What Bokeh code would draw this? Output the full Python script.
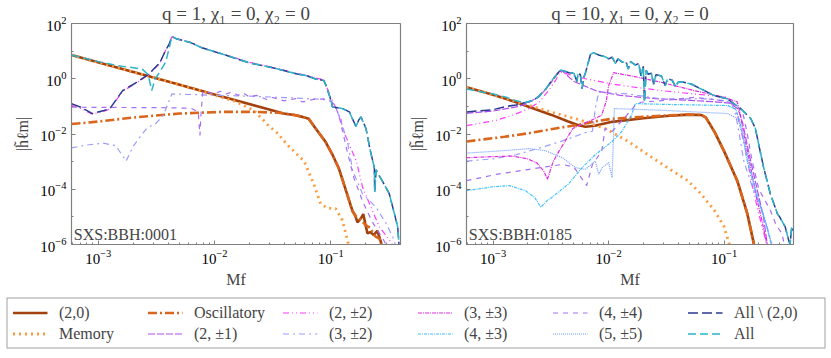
from bokeh.plotting import figure
from bokeh.models import Range1d, FixedTicker, Label, Legend, LegendItem
from bokeh.layouts import column, row
from bokeh.embed import file_html
from bokeh.resources import INLINE

# All values below are log10(Mf) and log10(|h_lm|).
# ---------------- Left panel: q = 1 (SXS:BBH:0001) ----------------
f20_1 = [-3.23, -2.8, -2.4, -2.0, -1.6, -1.405, -1.3, -1.244, -1.19, -1.13, -1.05, -0.985, -0.93, -0.886, -0.85, -0.814, -0.79, -0.77, -0.742, -0.72, -0.70, -0.684, -0.66, -0.63, -0.60, -0.569, -0.55]
h20_1 = [0.86, 0.36, -0.10, -0.57, -1.03, -1.26, -1.32, -1.38, -1.45, -1.80, -2.25, -2.75, -3.25, -3.82, -4.30, -4.77, -4.95, -5.2, -5.06, -4.9, -5.3, -5.6, -5.55, -5.66, -5.5, -5.9, -6.3]
fmem_1 = [-3.23, -2.8, -2.4, -2.2, -2.0, -1.82, -1.66, -1.53, -1.45, -1.375, -1.23, -1.145, -1.087, -1.03, -0.958, -0.90, -0.857, -0.83]
hmem_1 = [0.86, 0.36, -0.10, -0.33, -0.59, -0.82, -1.15, -1.72, -2.0, -2.39, -2.98, -3.82, -4.53, -4.68, -4.70, -5.12, -5.83, -6.3]
fosc_1 = [-3.23, -3.0, -2.67, -2.30, -1.95, -1.66, -1.45, -1.30, -1.244, -1.19, -1.13, -1.05, -0.985, -0.93, -0.886, -0.85, -0.814, -0.78, -0.742, -0.70, -0.66, -0.62, -0.58, -0.55]
hosc_1 = [-1.64, -1.55, -1.39, -1.26, -1.20, -1.20, -1.23, -1.32, -1.38, -1.45, -1.80, -2.25, -2.75, -3.25, -3.82, -4.30, -4.80, -5.0, -5.1, -5.3, -5.4, -5.7, -5.8, -6.3]
f22_1 = [-3.23, -3.14, -3.05, -2.95, -2.90, -2.79, -2.67, -2.568, -2.47, -2.424, -2.39, -2.367, -2.33, -2.2, -2.108, -1.9, -1.705, -1.5, -1.388, -1.3, -1.2, -1.13, -1.06, -1.0, -0.913, -0.90, -0.84, -0.78, -0.726, -0.654, -0.582, -0.496, -0.44]
h22_1 = [-0.95, -1.10, -1.28, -1.17, -1.10, -0.45, -0.15, 0.14, 0.56, 1.0, 1.25, 1.52, 1.46, 1.31, 1.13, 0.86, 0.60, 0.41, 0.30, 0.2, 0.12, 0.02, -0.03, -0.67, -1.44, -1.80, -2.39, -2.98, -3.93, -4.65, -5.36, -5.83, -6.2]
f32_1 = [-3.23, -3.1, -2.96, -2.85, -2.76, -2.70, -2.64, -2.585, -2.5, -2.44, -2.40, -2.367, -2.2, -2.0, -1.7, -1.4, -1.13, -1.0, -0.95, -0.90, -0.857, -0.81, -0.726, -0.61, -0.524, -0.467, -0.43]
h32_1 = [-2.5, -2.4, -2.33, -2.42, -2.98, -2.45, -2.1, -1.8, -1.6, -1.32, -0.9, -0.55, -0.57, -0.6, -0.63, -0.68, -0.73, -0.78, -1.1, -1.7, -2.27, -3.34, -4.17, -4.65, -5.24, -5.72, -6.2]
f44_1 = [-3.23, -2.8, -2.4, -2.2, -2.14, -2.125, -2.115, -2.10, -2.0, -1.95, -1.9, -1.85, -1.8, -1.75, -1.7, -1.64, -1.55, -1.5, -1.4, -1.3, -1.244, -1.15, -1.06, -0.99, -0.96, -0.92, -0.86, -0.80, -0.72, -0.64, -0.55, -0.50]
h44_1 = [-1.03, -1.04, -1.05, -1.07, -1.2, -2.05, -1.2, -0.45, -0.55, -0.45, -0.55, -0.48, -0.6, -0.52, -0.66, -0.6, -0.75, -0.68, -0.8, -0.72, -0.84, -0.75, -0.73, -0.85, -0.98, -1.5, -2.6, -3.6, -4.5, -5.2, -5.8, -6.2]
fa2_1 = [-3.23, -3.14, -3.05, -2.95, -2.90, -2.79, -2.67, -2.568, -2.47, -2.424, -2.39, -2.367, -2.33, -2.2, -2.108, -1.9, -1.705, -1.5, -1.388, -1.3, -1.2, -1.13, -1.06, -1.04, -1.0, -0.985, -0.94, -0.90, -0.84, -0.783, -0.76, -0.74, -0.697, -0.66, -0.625, -0.622, -0.61, -0.582, -0.53, -0.496, -0.453, -0.424, -0.41]
ha2_1 = [-0.90, -1.05, -1.26, -1.15, -1.08, -0.43, -0.13, 0.16, 0.58, 1.0, 1.25, 1.53, 1.45, 1.30, 1.12, 0.85, 0.58, 0.40, 0.28, 0.18, 0.10, -0.01, -0.06, -0.25, -0.75, -1.02, -1.05, -1.08, -1.2, -1.73, -1.5, -1.38, -1.80, -2.6, -3.22, -4.1, -3.3, -3.52, -3.9, -4.17, -4.88, -5.36, -6.2]
fall_1 = [-3.23, -3.0, -2.80, -2.70, -2.62, -2.57, -2.54, -2.51, -2.47, -2.42, -2.39, -2.367, -2.33, -2.2, -2.108, -1.9, -1.705, -1.5, -1.388, -1.3, -1.2, -1.13, -1.06, -1.04, -1.0, -0.985, -0.94, -0.90, -0.84, -0.783, -0.76, -0.74, -0.697, -0.66, -0.625, -0.622, -0.61, -0.582, -0.53, -0.496, -0.453, -0.424, -0.41]
hall_1 = [0.86, 0.62, 0.45, 0.40, 0.34, 0.15, -0.43, 0.0, 0.25, 0.6, 1.1, 1.53, 1.45, 1.30, 1.12, 0.85, 0.58, 0.40, 0.28, 0.18, 0.10, -0.01, -0.06, -0.25, -0.75, -1.02, -1.05, -1.08, -1.2, -1.73, -1.5, -1.38, -1.80, -2.6, -3.22, -4.1, -3.3, -3.52, -3.9, -4.17, -4.88, -5.36, -6.2]

# ---------------- Right panel: q = 10 (SXS:BBH:0185) ----------------
f20_2 = [-3.23, -3.0, -2.8, -2.5, -2.35, -2.26, -2.2, -2.12, -1.97, -1.7, -1.5, -1.315, -1.2, -1.16, -1.13, -1.08, -1.0, -0.886, -0.80, -0.744, -0.72]
h20_2 = [-0.31, -0.58, -0.85, -1.30, -1.55, -1.68, -1.74, -1.70, -1.56, -1.43, -1.35, -1.30, -1.31, -1.40, -1.6, -1.95, -2.63, -3.7, -4.88, -5.96, -6.4]
fmem_2 = [-3.23, -3.0, -2.8, -2.5, -2.26, -2.03, -1.83, -1.66, -1.49, -1.315, -1.2, -1.086, -1.0, -0.958, -0.94]
hmem_2 = [-0.31, -0.58, -0.83, -1.20, -1.48, -1.80, -2.27, -2.75, -3.22, -3.69, -4.17, -4.76, -5.36, -5.96, -6.3]
fosc_2 = [-3.23, -2.9, -2.69, -2.46, -2.25, -2.1, -1.97, -1.7, -1.5, -1.315, -1.2, -1.16, -1.13, -1.08, -1.0, -0.886, -0.80, -0.744, -0.72]
hosc_2 = [-2.27, -2.1, -1.97, -1.80, -1.66, -1.53, -1.45, -1.38, -1.33, -1.30, -1.31, -1.40, -1.6, -1.95, -2.63, -3.7, -4.88, -5.96, -6.4]
f21_2 = [-3.23, -3.0, -2.8, -2.72, -2.6, -2.5, -2.43, -2.40, -2.3, -2.1, -1.9, -1.6, -1.3, -1.1, -0.95, -0.88, -0.84, -0.78, -0.72, -0.66, -0.62]
h21_2 = [-1.25, -1.17, -1.02, -0.92, -0.65, -0.15, 0.25, 0.28, -0.1, -0.45, -0.6, -0.72, -0.78, -0.83, -0.88, -1.1, -1.6, -2.8, -3.9, -5.0, -6.2]
f22_2 = [-3.23, -2.97, -2.83, -2.69, -2.6, -2.52, -2.46, -2.42, -2.4, -2.2, -1.97, -1.75, -1.543, -1.26, -0.97, -0.92, -0.88, -0.82, -0.76, -0.70, -0.65, -0.62]
h22_2 = [-1.70, -1.50, -1.32, -1.08, -0.84, -0.43, -0.07, 0.25, 0.22, 0.0, -0.19, -0.32, -0.43, -0.55, -0.67, -0.9, -1.4, -2.5, -3.8, -4.9, -5.7, -6.2]
f32_2 = [-3.23, -3.0, -2.8, -2.6, -2.4, -2.2, -2.14, -2.115, -2.086, -1.83, -1.543, -1.115, -0.94, -0.90, -0.87, -0.83, -0.75, -0.672, -0.62, -0.58]
h32_2 = [-2.98, -2.9, -2.75, -2.51, -2.25, -1.95, -1.9, -1.08, -0.49, -0.55, -0.73, -0.73, -0.84, -1.3, -2.0, -2.98, -4.0, -4.76, -5.5, -6.2]
f33_2 = [-3.23, -3.0, -2.83, -2.7, -2.62, -2.56, -2.53, -2.48, -2.43, -2.31, -2.15, -2.06, -2.02, -2.0, -1.957, -1.8, -1.543, -1.26, -1.0, -0.886, -0.86, -0.83, -0.78, -0.72, -0.68, -0.64, -0.62]
h33_2 = [-2.86, -2.82, -2.80, -2.9, -3.05, -3.35, -3.64, -3.0, -2.63, -1.80, -1.5, -1.32, -0.8, -0.25, 0.22, 0.1, -0.13, -0.43, -0.67, -0.84, -1.3, -2.0, -3.0, -4.3, -5.0, -5.8, -6.2]
f43_2 = [-3.23, -3.0, -2.86, -2.72, -2.64, -2.586, -2.53, -2.49, -2.35, -2.23, -2.115, -1.97, -1.886, -1.80, -1.77, -1.5, -1.2, -0.97, -0.90, -0.86, -0.80, -0.72, -0.64, -0.58]
h43_2 = [-4.05, -3.91, -3.87, -4.05, -4.3, -4.65, -4.4, -4.29, -3.82, -3.22, -2.75, -2.27, -1.91, -1.3, -0.90, -0.93, -0.95, -0.97, -1.1, -1.6, -2.98, -4.2, -5.2, -6.2]
f44_2 = [-3.23, -2.97, -2.686, -2.4, -2.3, -2.19, -2.14, -2.06, -2.03, -1.97, -1.88, -1.77, -1.72, -1.5, -1.26, -1.0, -0.9, -0.84, -0.80, -0.758, -0.70, -0.60, -0.55, -0.50, -0.47]
h44_2 = [-3.69, -3.46, -3.28, -3.10, -3.2, -3.87, -3.1, -2.63, -1.8, -1.91, -1.5, -0.97, -0.85, -0.78, -0.67, -0.8, -0.95, -1.2, -2.0, -2.98, -4.0, -4.76, -5.3, -5.6, -6.2]
f55_2 = [-3.23, -3.0, -2.686, -2.55, -2.4, -2.286, -2.2, -2.115, -2.086, -2.057, -2.0, -1.97, -1.957, -1.95, -1.543, -0.97, -0.88, -0.83, -0.76, -0.68, -0.60, -0.57]
h55_2 = [-2.69, -2.63, -2.53, -2.6, -2.86, -3.22, -3.28, -2.98, -3.46, -3.22, -3.04, -3.58, -1.97, -1.08, -1.14, -1.26, -1.45, -2.2, -3.5, -4.7, -5.8, -6.2]
fa2_2 = [-3.23, -3.0, -2.886, -2.8, -2.72, -2.65, -2.6, -2.54, -2.49, -2.45, -2.415, -2.343, -2.30, -2.275, -2.265, -2.245, -2.23, -2.215, -2.2, -2.157, -2.13, -2.08, -2.03, -2.0, -1.97, -1.94, -1.92, -1.88, -1.85, -1.83, -1.81, -1.77, -1.74, -1.72, -1.70, -1.69, -1.675, -1.657, -1.63, -1.61, -1.59, -1.543, -1.51, -1.49, -1.45, -1.42, -1.40, -1.36, -1.286, -1.2, -1.086, -0.97, -0.857, -0.77, -0.73, -0.70, -0.658, -0.60, -0.54, -0.52, -0.472, -0.443, -0.43, -0.415, -0.40]
ha2_2 = [-1.20, -1.12, -1.00, -0.95, -0.86, -0.78, -0.62, -0.35, -0.05, 0.15, 0.32, 0.22, 0.20, -0.10, 0.16, 0.16, -0.37, 0.05, 0.22, 0.88, 0.94, 0.85, 0.80, 0.72, 0.78, 0.55, 0.72, 0.60, 0.62, 0.35, 0.62, 0.50, 0.55, 0.10, 0.45, -0.84, 0.30, 0.16, 0.20, -0.20, 0.15, 0.10, -0.25, 0.0, -0.05, -0.30, -0.13, -0.12, -0.19, -0.37, -0.61, -0.73, -1.08, -1.44, -1.80, -2.4, -3.22, -4.17, -4.88, -5.0, -5.36, -5.83, -6.0, -5.36, -5.5]
fall_2 = [-3.23, -3.0, -2.886, -2.8, -2.72, -2.65, -2.6, -2.54, -2.49, -2.45, -2.415, -2.343, -2.30, -2.275, -2.265, -2.245, -2.23, -2.215, -2.2, -2.157, -2.13, -2.08, -2.03, -2.0, -1.97, -1.94, -1.92, -1.88, -1.85, -1.83, -1.81, -1.77, -1.74, -1.72, -1.70, -1.69, -1.675, -1.657, -1.63, -1.61, -1.59, -1.543, -1.51, -1.49, -1.45, -1.42, -1.40, -1.36, -1.286, -1.2, -1.086, -0.97, -0.857, -0.77, -0.73, -0.70, -0.658, -0.60, -0.54, -0.52, -0.472, -0.443, -0.43, -0.415, -0.40]
hall_2 = [-0.37, -0.55, -0.67, -0.80, -0.86, -0.78, -0.62, -0.35, -0.05, 0.15, 0.32, 0.22, 0.20, -0.10, 0.16, 0.16, -0.37, 0.05, 0.22, 0.88, 0.94, 0.85, 0.80, 0.72, 0.78, 0.55, 0.72, 0.60, 0.62, 0.35, 0.62, 0.50, 0.55, 0.10, 0.45, -0.84, 0.30, 0.16, 0.20, -0.20, 0.15, 0.10, -0.25, 0.0, -0.05, -0.30, -0.13, -0.12, -0.19, -0.37, -0.61, -0.73, -1.08, -1.44, -1.80, -2.4, -3.22, -4.17, -4.88, -5.0, -5.36, -5.83, -6.0, -5.36, -5.5]

LABELS = ["(2,0)", "Memory", "Oscillatory", "(2, \u00b11)", "(2, \u00b12)", "(3, \u00b12)",
          "(3, \u00b13)", "(4, \u00b13)", "(4, \u00b14)", "(5, \u00b15)", "All \\ (2,0)", "All"]

STYLE = {
    "(2,0)":        ("#a3410e", 2.6, "solid"),
    "Memory":       ("#ff9a3c", 2.8, "2 4"),
    "Oscillatory":  ("#d9661c", 2.6, "9 3 2 3"),
    "(2, \u00b11)": ("#b04ef2", 1.2, "7 2"),
    "(2, \u00b12)": ("#ff3dff", 1.2, "6 3 1 3 1 3"),
    "(3, \u00b12)": ("#9c9cff", 1.2, "6 4 2 4"),
    "(3, \u00b13)": ("#e02de0", 1.2, "4 1 1 1"),
    "(4, \u00b13)": ("#3ec0ff", 1.2, "3 1 1 1"),
    "(4, \u00b14)": ("#a66ff5", 1.2, "5 5"),
    "(5, \u00b15)": ("#6f9dff", 1.2, "1 1"),
    "All \\ (2,0)": ("#2c3a8f", 1.5, "10 4"),
    "All":          ("#2fb3c6", 1.5, "8 4"),
}

SERIES_1 = {
    "(2,0)": (f20_1, h20_1), "Memory": (fmem_1, hmem_1), "Oscillatory": (fosc_1, hosc_1),
    "(2, \u00b12)": (f22_1, h22_1), "(3, \u00b12)": (f32_1, h32_1), "(4, \u00b14)": (f44_1, h44_1),
    "All \\ (2,0)": (fa2_1, ha2_1), "All": (fall_1, hall_1),
}
SERIES_2 = {
    "(2,0)": (f20_2, h20_2), "Memory": (fmem_2, hmem_2), "Oscillatory": (fosc_2, hosc_2),
    "(2, \u00b11)": (f21_2, h21_2), "(2, \u00b12)": (f22_2, h22_2), "(3, \u00b12)": (f32_2, h32_2),
    "(3, \u00b13)": (f33_2, h33_2), "(4, \u00b13)": (f43_2, h43_2), "(4, \u00b14)": (f44_2, h44_2),
    "(5, \u00b15)": (f55_2, h55_2), "All \\ (2,0)": (fa2_2, ha2_2), "All": (fall_2, hall_2),
}

XMIN, XMAX = 10 ** -3.23, 10 ** -0.40
SERIF = "Liberation Serif"
GREY = "#808080"


def panel(title, tag, series, bl, br):
    p = figure(width=bl + 329 + br, height=290, x_axis_type="log", y_axis_type="log",
               x_range=Range1d(XMIN, XMAX), y_range=Range1d(1e-6, 1e2),
               toolbar_location=None, output_backend="svg", title=title,
               min_border_left=bl, min_border_right=br, min_border_top=0, min_border_bottom=42)
    p.title.align = "center"
    p.title.text_font = SERIF
    p.title.text_font_size = "19px"
    p.title.text_font_style = "normal"
    p.title.standoff = 0
    p.title.offset = 0
    p.grid.visible = False
    p.outline_line_color = GREY
    p.outline_line_width = 1.2
    p.xaxis.ticker = FixedTicker(ticks=[1e-3, 1e-2, 1e-1],
                                 minor_ticks=[k * 10.0 ** e for e in (-4, -3, -2, -1) for k in range(2, 10)])
    p.yaxis.ticker = FixedTicker(ticks=[1e-6, 1e-4, 1e-2, 1, 1e2],
                                 minor_ticks=[1e-5, 1e-3, 1e-1, 1e1])
    for ax in (p.xaxis[0], p.yaxis[0]):
        ax.axis_line_color = GREY
        ax.major_tick_line_color = GREY
        ax.minor_tick_line_color = GREY
        ax.major_tick_in = 4
        ax.major_tick_out = 0
        ax.minor_tick_in = 2
        ax.minor_tick_out = 0
        ax.major_label_text_font = SERIF
        ax.major_label_text_font_size = "15px"
        ax.major_label_text_color = "black"
        ax.axis_label_text_font = SERIF
        ax.axis_label_text_font_size = "16px"
        ax.axis_label_text_font_style = "normal"
    p.xaxis.axis_label = "Mf"
    p.xaxis.axis_label_standoff = 4
    p.yaxis.axis_label = "|h\u0303\u2113m|"
    p.yaxis.axis_label_standoff = 6
    for name in LABELS:
        if name not in series:
            continue
        fx, hy = series[name]
        c, w, d = STYLE[name]
        p.line([10 ** v for v in fx], [10 ** v for v in hy], line_color=c, line_width=w, line_dash=d)
    p.add_layout(Label(x=10 ** -3.21, y=1e-6, y_offset=2, text=tag, text_align="left",
                       text_baseline="bottom", text_font=SERIF, text_font_size="16px"))
    return p


p1 = panel("q = 1, \u03c7\u2081 = 0, \u03c7\u2082 = 0", "SXS:BBH:0001", SERIES_1, 71, 6)
p2 = panel("q = 10, \u03c7\u2081 = 0, \u03c7\u2082 = 0", "SXS:BBH:0185", SERIES_2, 58, 36)

pl = figure(width=831, height=66, toolbar_location=None, output_backend="svg",
            x_range=Range1d(0, 1), y_range=Range1d(0, 1),
            x_axis_location=None, y_axis_location=None, min_border=0)
pl.grid.visible = False
pl.outline_line_color = None
items = []
for name in LABELS:
    c, w, d = STYLE[name]
    r = pl.line([5, 6], [5, 6], line_color=c, line_width=w, line_dash=d)
    items.append(LegendItem(label=name, renderers=[r]))
leg = Legend(items=items, location="center", orientation="vertical", nrows=2,
             label_text_font=SERIF, label_text_font_size="16px",
             border_line_color="#444444", border_line_width=1.2,
             glyph_width=35, glyph_height=16, label_standoff=12, label_width=85,
             label_height=18, spacing=3, padding=5, margin=0)
pl.add_layout(leg, "center")

layout = column(row(p1, p2), pl)
open("out.html", "w").write(file_html(layout, INLINE))
